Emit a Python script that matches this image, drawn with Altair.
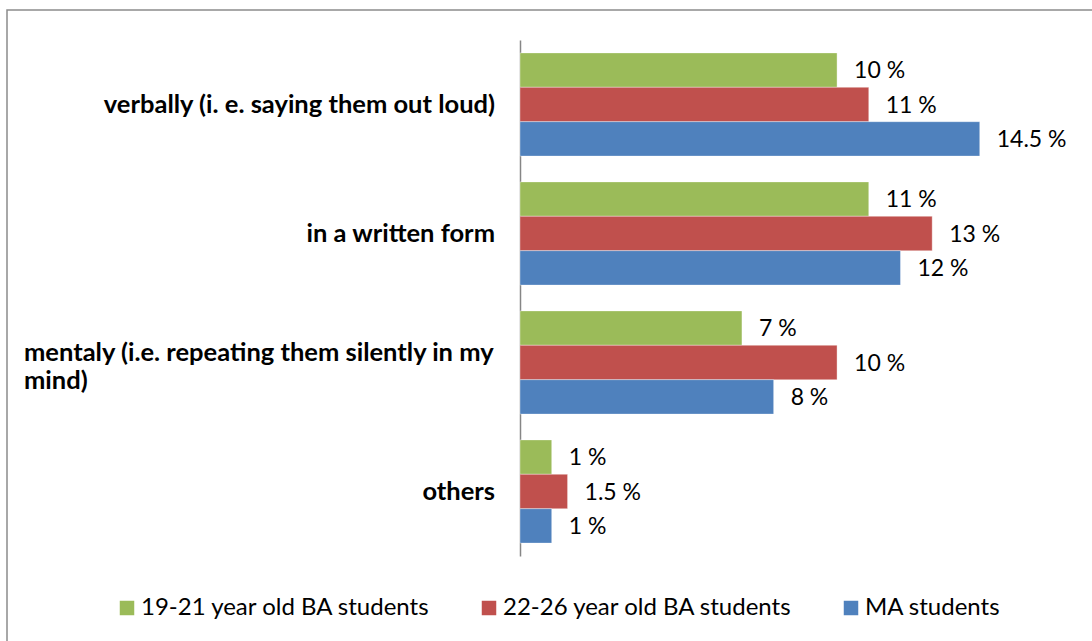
import altair as alt
import pandas as pd

categories = [
    "verbally (i. e. saying them out loud)",
    "in a written form",
    "mentaly (i.e. repeating them silently in my mind)",
    "others",
]
series = ["19-21 year old BA students", "22-26 year old BA students", "MA students"]
colors = ["#9BBB59", "#C0504D", "#4F81BD"]
vals_19_21 = [10, 11, 7, 1]
vals_22_26 = [11, 13, 10, 1.5]
vals_ma = [14.5, 12, 8, 1]

rows = []
for s, vals in zip(series, [vals_19_21, vals_22_26, vals_ma]):
    for c, v in zip(categories, vals):
        rows.append({"category": c, "series": s, "value": v, "label": f"{v:g} %"})
df = pd.DataFrame(rows)

cat_lines = {
    categories[0]: [categories[0]],
    categories[1]: [categories[1]],
    categories[2]: ["mentaly (i.e. repeating them silently in my", "mind)"],
    categories[3]: [categories[3]],
}
cat_df = pd.DataFrame({"category": categories,
                       "lines": [cat_lines[c] for c in categories],
                       "wrapped": [len(cat_lines[c]) > 1 for c in categories]})

FONT = "Lato"
W, H = 539, 516

y_enc = alt.Y("category:N", sort=categories, title=None,
              scale=alt.Scale(paddingInner=0.2, paddingOuter=0.1),
              axis=alt.Axis(labels=False, ticks=False, domainColor="#868686",
                            domainWidth=1.5, grid=False))
yoff = alt.YOffset("series:N", sort=series,
                   scale=alt.Scale(paddingInner=0, paddingOuter=0))
x_enc = alt.X("value:Q", scale=alt.Scale(domain=[0, 17]), axis=None)

bars = alt.Chart(df).mark_bar(stroke="#ffffff", strokeWidth=0.6, strokeOpacity=0.6).encode(
    y=y_enc, yOffset=yoff, x=x_enc,
    color=alt.Color("series:N", sort=series,
                    scale=alt.Scale(domain=series, range=colors),
                    legend=alt.Legend(title=None, orient="none", direction="horizontal",
                                      legendX=-405, legendY=556,
                                      symbolType="square", symbolSize=210,
                                      symbolStrokeWidth=0,
                                      labelFont=FONT, labelFontSize=24, labelLimit=0,
                                      labelColor="#000000", labelOffset=2,
                                      gridAlign="all",
                                      columnPadding=46, padding=0)),
)

values = alt.Chart(df).mark_text(align="left", baseline="middle", dx=17, dy=1,
                                 font=FONT, fontSize=23, color="#000000").encode(
    y=y_enc, yOffset=yoff, x=x_enc, text="label:N")

cat_right = alt.Chart(cat_df).transform_filter("!datum.wrapped").mark_text(
    align="right", baseline="middle", font=FONT, fontSize=25.5, fontWeight="bold",
    color="#000000").encode(y=y_enc, x=alt.value(-25), text="lines")

cat_left = alt.Chart(cat_df).transform_filter("datum.wrapped").mark_text(
    align="left", baseline="middle", font=FONT, fontSize=25.5, fontWeight="bold",
    color="#000000", lineHeight=28, dy=-10).encode(y=y_enc, x=alt.value(-496), text="lines")

frame = alt.Chart(pd.DataFrame({"k": [0]})).mark_rect(
    filled=False, stroke="#8c8c8c", strokeWidth=1.5).encode(
    x=alt.value(-513), x2=alt.value(W + 200), y=alt.value(-30), y2=alt.value(H + 200))

chart = alt.layer(frame, bars, values, cat_right, cat_left).properties(
    width=W, height=H,
    background="#ffffff",
    autosize=alt.AutoSizeParams(type="none"),
    padding={"left": 520, "top": 40, "right": 1092 - 520 - W, "bottom": 641 - 40 - H},
).configure_view(strokeWidth=0, stroke=None)

chart.save("out.html", embed_options={"renderer": "svg", "actions": False})
